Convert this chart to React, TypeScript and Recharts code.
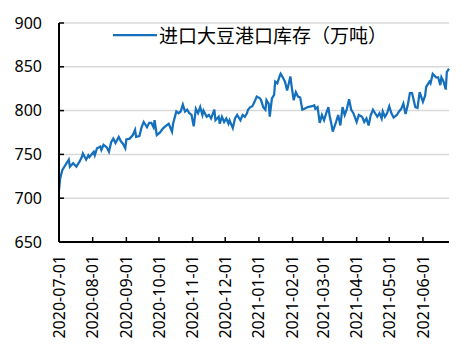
import { LineChart, Line, XAxis, YAxis, CartesianGrid, Legend } from 'recharts';

// days since 2020-07-01
const dayOffsets = [
  0, 1, 3, 6, 9, 10, 13, 16, 19, 21, 22, 25, 27, 28, 32, 33, 35, 38, 39, 41,
  44, 46, 48, 50, 52, 55, 57, 59, 61, 62, 65, 68, 70, 71, 74, 76, 78, 79, 81, 83,
  85, 87, 88, 90, 93, 96, 99, 101, 104, 105, 108, 110, 112, 114, 116, 118, 120, 122, 124, 126,
  128, 130, 132, 133, 136, 138, 140, 143, 144, 147, 148, 150, 152, 154, 156, 157, 160, 162, 164, 167,
  169, 171, 173, 174, 176, 178, 180, 182, 185, 186, 188, 190, 191, 193, 194, 196, 198, 199, 201, 203,
  204, 206, 208, 210, 213, 214, 216, 218, 220, 222, 224, 226, 229, 233, 235, 236, 238, 240, 242, 244,
  246, 248, 249, 251, 252, 255, 257, 259, 261, 263, 265, 267, 269, 271, 274, 276, 279, 281, 283, 285,
  287, 289, 291, 293, 295, 297, 298, 300, 302, 304, 306, 308, 311, 313, 315, 317, 319, 321, 323, 325,
  328, 330, 332, 335, 337, 338, 341, 342, 344, 347, 349, 351, 352, 354, 356, 357, 359,
];

// 进口大豆港口库存（万吨）
const stockValues = [
  709, 722, 732, 738, 744, 736, 740, 736, 742, 747, 751, 744, 749, 747, 753, 749, 757, 759, 755, 761,
  758, 753, 764, 768, 763, 770, 765, 762, 757, 767, 768, 772, 778, 770, 771, 781, 787, 785, 781, 786,
  786, 781, 789, 772, 775, 780, 783, 785, 776, 785, 799, 797, 799, 807, 799, 801, 797, 795, 782, 802,
  797, 804, 795, 800, 793, 795, 791, 801, 789, 793, 785, 793, 787, 791, 785, 789, 780, 791, 795, 789,
  795, 793, 797, 801, 804, 805, 810, 816, 814, 812, 804, 801, 812, 808, 793, 814, 818, 833, 831, 839,
  842, 838, 833, 823, 839, 829, 812, 821, 816, 815, 801, 802, 804, 805, 806, 802, 804, 786, 795, 789,
  797, 804, 795, 783, 776, 787, 795, 783, 804, 795, 802, 813, 801, 797, 787, 795, 793, 787, 791, 783,
  795, 801, 797, 793, 797, 791, 799, 793, 797, 805, 797, 792, 795, 799, 802, 808, 796, 806, 820, 820,
  804, 803, 821, 810, 817, 827, 833, 831, 842, 838, 838, 829, 838, 833, 824, 844, 848,
];

const monthTicks = [0, 31, 62, 92, 123, 153, 184, 215, 243, 274, 304, 335];
const monthLabels = [
  '2020-07-01', '2020-08-01', '2020-09-01', '2020-10-01', '2020-11-01', '2020-12-01',
  '2021-01-01', '2021-02-01', '2021-03-01', '2021-04-01', '2021-05-01', '2021-06-01',
];
const yTicks = [650, 700, 750, 800, 850, 900];

const seriesName = '进口大豆港口库存（万吨）';
const lineColor = '#1470bd';

const chartData = dayOffsets.map((day, i) => ({ day, value: stockValues[i] }));

const MonthTick = ({ x, y, payload }: any) => {
  const idx = monthTicks.indexOf(payload.value);
  return (
    <text
      transform={`translate(${x},${y}) rotate(-90)`}
      textAnchor="end"
      dy="0.35em"
      fontSize={16}
      fontFamily="'Noto Sans', sans-serif"
      fill="#000"
    >
      {monthLabels[idx]}
    </text>
  );
};

const LegendContent = () => (
  <div style={{ display: 'flex', alignItems: 'center', whiteSpace: 'nowrap' }}>
    <svg width={44} height={4}>
      <line x1={0} y1={2} x2={44} y2={2} stroke={lineColor} strokeWidth={2.25} />
    </svg>
    <span
      style={{
        marginLeft: 2,
        fontSize: 19,
        fontFamily: "'Noto Sans CJK SC', sans-serif",
        color: '#000',
        lineHeight: '26px',
      }}
    >
      {seriesName}
    </span>
  </div>
);

export default function App() {
  return (
    <div style={{ position: 'absolute', left: 0, top: 0, background: '#fff' }}>
      <LineChart
        width={472}
        height={355}
        data={chartData}
        margin={{ top: 23, right: 23, bottom: 13, left: 9 }}
      >
        <CartesianGrid horizontal vertical={false} stroke="#d9d9d9" strokeWidth={1.5} />
        <XAxis
          dataKey="day"
          type="number"
          domain={[0, 359]}
          ticks={monthTicks}
          interval={0}
          height={100}
          axisLine={{ stroke: '#000', strokeWidth: 2 }}
          tickLine={{ stroke: '#000', strokeWidth: 1.5 }}
          tickSize={-5}
          tickMargin={18}
          tick={<MonthTick />}
        />
        <YAxis
          domain={[650, 900]}
          ticks={yTicks}
          interval={0}
          width={50}
          axisLine={{ stroke: '#000', strokeWidth: 2 }}
          tickLine={{ stroke: '#000', strokeWidth: 1.5 }}
          tickSize={-5}
          tickMargin={22}
          tick={{ fontSize: 16, fontFamily: "'Noto Sans', sans-serif", fill: '#000' }}
        />
        <Legend
          layout="horizontal"
          verticalAlign="middle"
          align="center"
          wrapperStyle={{ top: 22, left: 113, width: 'auto' }}
          content={<LegendContent />}
        />
        <Line
          type="linear"
          dataKey="value"
          name={seriesName}
          stroke={lineColor}
          strokeWidth={2.25}
          dot={false}
          isAnimationActive={false}
        />
      </LineChart>
    </div>
  );
}
